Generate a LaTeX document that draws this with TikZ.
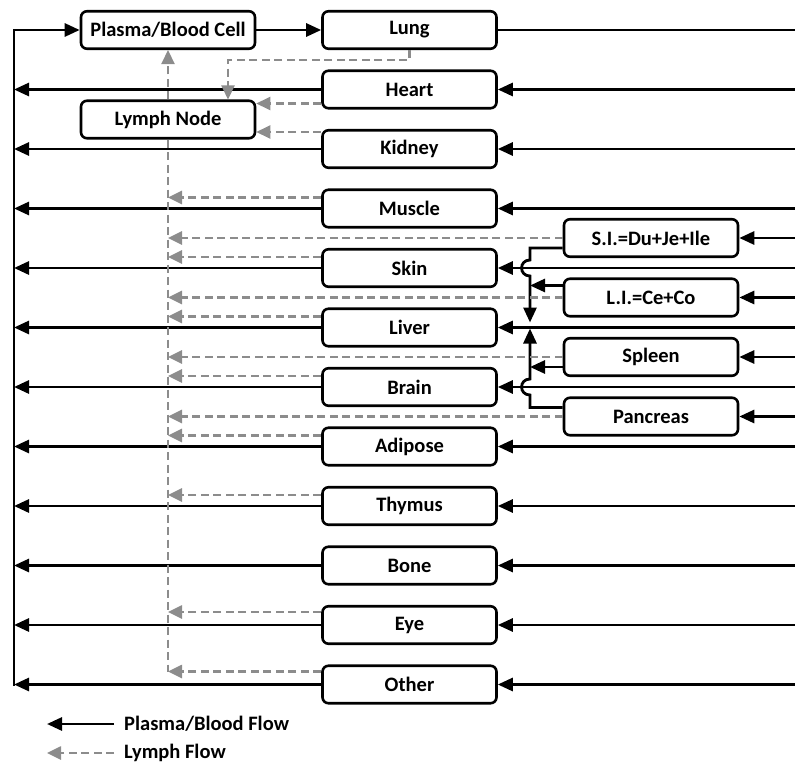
\documentclass[tikz,border=0pt]{standalone}
\usepackage{fontspec}
\setmainfont{Carlito}
\usetikzlibrary{arrows.meta,positioning,calc}
\definecolor{pkgrey}{HTML}{8C8C8C}

\begin{document}
\begin{tikzpicture}[
  x=1pt, y=-1pt,
  node distance=19.4pt,
  organ/.style={draw, line width=2.6pt, rounded corners=6pt,
                font=\bfseries\fontsize{20.5}{24}\selectfont, align=center,
                minimum width=174pt, minimum height=37.5pt, inner sep=0pt},
  flow/.style={-{Triangle[length=15pt,width=13pt]}, line width=2.8pt},
  lymph/.style={-{Triangle[length=14pt,width=13pt]}, pkgrey, line width=2.6pt,
                dash pattern=on 8pt off 4.5pt},
  legtext/.style={font=\bfseries\fontsize{20.5}{24}\selectfont, anchor=west, inner sep=0pt},
]
  \useasboundingbox (0,0) rectangle (795,768);

  %% Organ column, top to bottom
  \node[organ] (lung) at (409.5,30) {Lung};
  \node[organ, below=of lung]    (heart)   {Heart};
  \node[organ, below=of heart]   (kidney)  {Kidney};
  \node[organ, below=of kidney]  (muscle)  {Muscle};
  \node[organ, below=of muscle]  (skin)    {Skin};
  \node[organ, below=of skin]    (liver)   {Liver};
  \node[organ, below=of liver]   (brain)   {Brain};
  \node[organ, below=of brain]   (adipose) {Adipose};
  \node[organ, below=of adipose] (thymus)  {Thymus};
  \node[organ, below=of thymus]  (bone)    {Bone};
  \node[organ, below=of bone]    (eye)     {Eye};
  \node[organ, below=of eye]     (other)   {Other};

  %% Blood and lymph pools
  \node[organ] (plasma) at (168,30)    {Plasma/Blood Cell};
  \node[organ] (lnode)  at (168,119.5) {Lymph Node};

  %% Gut organs feeding the liver
  \node[organ] (si) at (651,238)     {S.I.=Du+Je+Ile};
  \node[organ, below=of si]     (li)       {L.I.=Ce+Co};
  \node[organ, below=of li]     (spleen)   {Spleen};
  \node[organ, below=of spleen] (pancreas) {Pancreas};

  %% Bus positions
  \coordinate (busb) at (14,686);
  \coordinate (rx)   at (795,0);
  \coordinate (pv)   at (530,0);

  %% Venous return and arterial supply
  \draw[flow] (busb) |- (plasma.west);
  \draw[flow] (plasma) -- (lung);
  \draw[flow, -] (lung) -- (lung -| rx);

  \draw[flow] (heart.west)   -- (heart.west -| busb);
  \draw[flow] (kidney.west)  -- (kidney.west -| busb);
  \draw[flow] (muscle.west)  -- (muscle.west -| busb);
  \draw[flow] (skin.west)    -- (skin.west -| busb);
  \draw[flow] (liver.west)   -- (liver.west -| busb);
  \draw[flow] (brain.west)   -- (brain.west -| busb);
  \draw[flow] (adipose.west) -- (adipose.west -| busb);
  \draw[flow] (thymus.west)  -- (thymus.west -| busb);
  \draw[flow] (bone.west)    -- (bone.west -| busb);
  \draw[flow] (eye.west)     -- (eye.west -| busb);
  \draw[flow] (other.west)   -- (other.west -| busb);

  \draw[flow] (heart.east -| rx)    -- (heart.east);
  \draw[flow] (kidney.east -| rx)   -- (kidney.east);
  \draw[flow] (muscle.east -| rx)   -- (muscle.east);
  \draw[flow] (skin.east -| rx)     -- (skin.east);
  \draw[flow] (liver.east -| rx)    -- (liver.east);
  \draw[flow] (brain.east -| rx)    -- (brain.east);
  \draw[flow] (adipose.east -| rx)  -- (adipose.east);
  \draw[flow] (thymus.east -| rx)   -- (thymus.east);
  \draw[flow] (bone.east -| rx)     -- (bone.east);
  \draw[flow] (eye.east -| rx)      -- (eye.east);
  \draw[flow] (other.east -| rx)    -- (other.east);
  \draw[flow] (si.east -| rx)       -- (si.east);
  \draw[flow] (li.east -| rx)       -- (li.east);
  \draw[flow] (spleen.east -| rx)   -- (spleen.east);
  \draw[flow] (pancreas.east -| rx) -- (pancreas.east);

  %% Portal flow into the liver (hops over crossing lines)
  \draw[flow] ([yshift=-10pt]si.west) -- ([yshift=-10pt]pv |- si.west)
    -- ([yshift=8pt]pv |- skin.east)
    to[out=180, in=180, looseness=1.8] ([yshift=-8pt]pv |- skin.east)
    -- ([yshift=5pt]pv |- liver.east);
  \draw[flow] ([yshift=9pt]pancreas.west) -- ([yshift=9pt]pv |- pancreas.west)
    -- ([yshift=-8pt]pv |- brain.east)
    to[out=180, in=180, looseness=1.8] ([yshift=8pt]pv |- brain.east)
    -- ([yshift=-1pt]pv |- liver.east);
  \draw[flow] ([yshift=12pt]li.west)      -- ([yshift=12pt]pv |- li.west);
  \draw[flow] ([yshift=-10pt]spleen.west) -- ([yshift=-10pt]pv |- spleen.west);

  %% Lymph flow
  \draw[lymph] (lnode) -- (plasma);
  \draw[lymph, -] (lnode.south) -- ([yshift=13pt]lnode.south |- other.west);
  \draw[lymph] (lung.south) -- ++(0,10) -| ([xshift=60pt]lnode.north);
  \draw[lymph] ([yshift=-14pt]heart.west) -- ([yshift=-14pt]lnode.east |- heart.west);
  \draw[lymph] ([yshift=17pt]kidney.west) -- ([yshift=17pt]lnode.east |- kidney.west);

  \draw[lymph] ([yshift=11pt]muscle.west)  -- ([yshift=11pt]lnode.south |- muscle.west);
  \draw[lymph] (si.west)                   -- (lnode.south |- si.west);
  \draw[lymph] ([yshift=11pt]skin.west)    -- ([yshift=11pt]lnode.south |- skin.west);
  \draw[lymph] (li.west)                   -- (lnode.south |- li.west);
  \draw[lymph] ([yshift=11pt]liver.west)   -- ([yshift=11pt]lnode.south |- liver.west);
  \draw[lymph] (spleen.west)               -- (lnode.south |- spleen.west);
  \draw[lymph] ([yshift=11pt]brain.west)   -- ([yshift=11pt]lnode.south |- brain.west);
  \draw[lymph] (pancreas.west)             -- (lnode.south |- pancreas.west);
  \draw[lymph] ([yshift=11pt]adipose.west) -- ([yshift=11pt]lnode.south |- adipose.west);
  \draw[lymph] ([yshift=11pt]thymus.west)  -- ([yshift=11pt]lnode.south |- thymus.west);
  \draw[lymph] ([yshift=13pt]eye.west)     -- ([yshift=13pt]lnode.south |- eye.west);
  \draw[lymph] ([yshift=13pt]other.west)   -- ([yshift=13pt]lnode.south |- other.west);

  %% Legend
  \node[legtext] (lblood) at (124,724) {Plasma/Blood Flow};
  \node[legtext] (llymph) at (124,753) {Lymph Flow};
  \coordinate (legtip) at (47,0);
  \draw[flow]  ([xshift=-10pt]lblood.west) -- (lblood.west -| legtip);
  \draw[lymph] ([xshift=-10pt]llymph.west) -- (llymph.west -| legtip);

\end{tikzpicture}
\end{document}
